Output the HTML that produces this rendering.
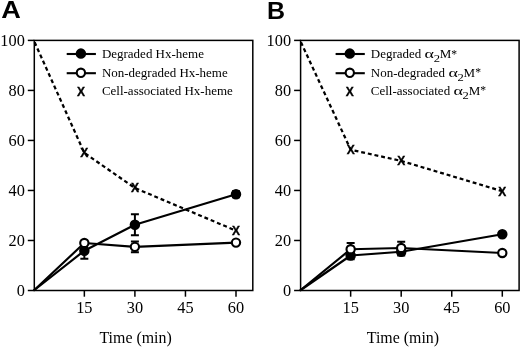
<!DOCTYPE html>
<html><head><meta charset="utf-8"><title>Figure</title>
<style>
html,body{margin:0;padding:0;background:#fff;}
svg{display:block}
.t{font-family:"Liberation Serif",serif;font-size:17.2px;fill:#000}
.tt{font-family:"Liberation Serif",serif;font-size:17.2px;fill:#000}
.l{font-family:"Liberation Serif",serif;font-size:13.4px;fill:#000}
.l2{font-family:"Liberation Serif",serif;font-size:10.5px;fill:#000}
.x{font-family:"Liberation Sans",sans-serif;font-weight:bold;font-size:12px;fill:#000;stroke:#000;stroke-width:0.35px}
.h{font-family:"Liberation Sans",sans-serif;font-weight:bold;font-size:24px;fill:#000}
</style></head><body>
<svg width="520" height="348" viewBox="0 0 520 348">
<rect width="520" height="348" fill="#fff"/>
<text transform="translate(1.30,18.45) scale(1.13,1.0)" text-anchor="start" class="h">A</text>
<text transform="translate(267.00,18.80) scale(1.04,1.0)" text-anchor="start" class="h">B</text>
<rect x="34.3" y="40.4" width="218.50" height="250.1" fill="none" stroke="#000" stroke-width="1.5"/>
<line x1="27.799999999999997" y1="290.5" x2="34.3" y2="290.5" stroke="#000" stroke-width="1.5"/>
<text transform="translate(24.80,296.30) scale(0.95,1.0)" text-anchor="end" class="t">0</text>
<line x1="27.799999999999997" y1="240.48000000000002" x2="34.3" y2="240.48000000000002" stroke="#000" stroke-width="1.5"/>
<text transform="translate(24.80,246.28) scale(0.95,1.0)" text-anchor="end" class="t">20</text>
<line x1="27.799999999999997" y1="190.46" x2="34.3" y2="190.46" stroke="#000" stroke-width="1.5"/>
<text transform="translate(24.80,196.26) scale(0.95,1.0)" text-anchor="end" class="t">40</text>
<line x1="27.799999999999997" y1="140.44" x2="34.3" y2="140.44" stroke="#000" stroke-width="1.5"/>
<text transform="translate(24.80,146.24) scale(0.95,1.0)" text-anchor="end" class="t">60</text>
<line x1="27.799999999999997" y1="90.42000000000002" x2="34.3" y2="90.42000000000002" stroke="#000" stroke-width="1.5"/>
<text transform="translate(24.80,96.22) scale(0.95,1.0)" text-anchor="end" class="t">80</text>
<line x1="27.799999999999997" y1="40.400000000000006" x2="34.3" y2="40.400000000000006" stroke="#000" stroke-width="1.5"/>
<text transform="translate(24.80,46.20) scale(0.95,1.0)" text-anchor="end" class="t">100</text>
<line x1="84.35" y1="290.5" x2="84.35" y2="296.7" stroke="#000" stroke-width="1.5"/>
<text transform="translate(84.35,313.30) scale(0.95,1.0)" text-anchor="middle" class="t">15</text>
<line x1="134.90" y1="290.5" x2="134.90" y2="296.7" stroke="#000" stroke-width="1.5"/>
<text transform="translate(134.90,313.30) scale(0.95,1.0)" text-anchor="middle" class="t">30</text>
<line x1="185.45" y1="290.5" x2="185.45" y2="296.7" stroke="#000" stroke-width="1.5"/>
<text transform="translate(185.45,313.30) scale(0.95,1.0)" text-anchor="middle" class="t">45</text>
<line x1="236.00" y1="290.5" x2="236.00" y2="296.7" stroke="#000" stroke-width="1.5"/>
<text transform="translate(236.00,313.30) scale(0.95,1.0)" text-anchor="middle" class="t">60</text>
<text transform="translate(135.60,343.20) scale(0.926,1.0)" text-anchor="middle" class="tt">Time (min)</text>
<polyline points="33.8,40.4 84.3,152.9 134.9,188.0 236.0,230.7" fill="none" stroke="#000" stroke-width="2.25" stroke-dasharray="3.9 2.9" stroke-dashoffset="-2"/>
<text transform="translate(84.35,157.25) scale(1.0,1.0)" text-anchor="middle" class="x">X</text>
<text transform="translate(134.90,192.26) scale(1.0,1.0)" text-anchor="middle" class="x">X</text>
<text transform="translate(236.00,235.03) scale(1.0,1.0)" text-anchor="middle" class="x">X</text>
<polyline points="33.8,290.5 84.3,250.7 134.9,224.7 236.0,194.2" fill="none" stroke="#000" stroke-width="2.15" stroke-linejoin="round"/>
<path d="M84.35 258.74V242.73M80.35 258.74h8M80.35 242.73h8" stroke="#000" stroke-width="2" fill="none"/>
<path d="M134.90 235.23V214.22M130.90 235.23h8M130.90 214.22h8" stroke="#000" stroke-width="2" fill="none"/>
<path d="M236.00 197.21V191.21M232.00 197.21h8M232.00 191.21h8" stroke="#000" stroke-width="2" fill="none"/>
<circle cx="84.35" cy="250.73" r="4.2" fill="#000" stroke="#000" stroke-width="2.1"/>
<circle cx="134.90" cy="224.72" r="4.2" fill="#000" stroke="#000" stroke-width="2.1"/>
<circle cx="236.00" cy="194.21" r="4.2" fill="#000" stroke="#000" stroke-width="2.1"/>
<polyline points="33.8,290.5 84.3,243.0 134.9,246.9 236.0,242.6" fill="none" stroke="#000" stroke-width="2.15" stroke-linejoin="round"/>
<path d="M134.90 252.23V241.48M130.90 252.23h8M130.90 241.48h8" stroke="#000" stroke-width="2" fill="none"/>
<circle cx="84.35" cy="242.98" r="4.15" fill="#fff" stroke="#000" stroke-width="2.1"/>
<circle cx="134.90" cy="246.86" r="4.15" fill="#fff" stroke="#000" stroke-width="2.1"/>
<circle cx="236.00" cy="242.61" r="4.15" fill="#fff" stroke="#000" stroke-width="2.1"/>
<line x1="66.7" y1="54.0" x2="95.9" y2="54.0" stroke="#000" stroke-width="2.1"/>
<circle cx="80.9" cy="53.6" r="4.2" fill="#000" stroke="#000" stroke-width="2.1"/>
<line x1="66.7" y1="73.2" x2="95.9" y2="73.2" stroke="#000" stroke-width="2.1"/>
<circle cx="80.9" cy="72.8" r="4.15" fill="#fff" stroke="#000" stroke-width="2.1"/>
<text transform="translate(80.90,95.80) scale(1.0,1.0)" text-anchor="middle" class="x">X</text>
<text transform="translate(101.90,58.30) scale(0.97,1.0)" text-anchor="start" class="l">Degraded Hx-heme</text>
<text transform="translate(101.90,76.60) scale(0.97,1.0)" text-anchor="start" class="l">Non-degraded Hx-heme</text>
<text transform="translate(101.90,94.60) scale(0.97,1.0)" text-anchor="start" class="l">Cell-associated Hx-heme</text>
<rect x="300.6" y="40.4" width="218.50" height="250.1" fill="none" stroke="#000" stroke-width="1.5"/>
<line x1="294.1" y1="290.5" x2="300.6" y2="290.5" stroke="#000" stroke-width="1.5"/>
<text transform="translate(291.10,296.30) scale(0.95,1.0)" text-anchor="end" class="t">0</text>
<line x1="294.1" y1="240.48000000000002" x2="300.6" y2="240.48000000000002" stroke="#000" stroke-width="1.5"/>
<text transform="translate(291.10,246.28) scale(0.95,1.0)" text-anchor="end" class="t">20</text>
<line x1="294.1" y1="190.46" x2="300.6" y2="190.46" stroke="#000" stroke-width="1.5"/>
<text transform="translate(291.10,196.26) scale(0.95,1.0)" text-anchor="end" class="t">40</text>
<line x1="294.1" y1="140.44" x2="300.6" y2="140.44" stroke="#000" stroke-width="1.5"/>
<text transform="translate(291.10,146.24) scale(0.95,1.0)" text-anchor="end" class="t">60</text>
<line x1="294.1" y1="90.42000000000002" x2="300.6" y2="90.42000000000002" stroke="#000" stroke-width="1.5"/>
<text transform="translate(291.10,96.22) scale(0.95,1.0)" text-anchor="end" class="t">80</text>
<line x1="294.1" y1="40.400000000000006" x2="300.6" y2="40.400000000000006" stroke="#000" stroke-width="1.5"/>
<text transform="translate(291.10,46.20) scale(0.95,1.0)" text-anchor="end" class="t">100</text>
<line x1="350.65" y1="290.5" x2="350.65" y2="296.7" stroke="#000" stroke-width="1.5"/>
<text transform="translate(350.65,313.30) scale(0.95,1.0)" text-anchor="middle" class="t">15</text>
<line x1="401.20" y1="290.5" x2="401.20" y2="296.7" stroke="#000" stroke-width="1.5"/>
<text transform="translate(401.20,313.30) scale(0.95,1.0)" text-anchor="middle" class="t">30</text>
<line x1="451.75" y1="290.5" x2="451.75" y2="296.7" stroke="#000" stroke-width="1.5"/>
<text transform="translate(451.75,313.30) scale(0.95,1.0)" text-anchor="middle" class="t">45</text>
<line x1="502.30" y1="290.5" x2="502.30" y2="296.7" stroke="#000" stroke-width="1.5"/>
<text transform="translate(502.30,313.30) scale(0.95,1.0)" text-anchor="middle" class="t">60</text>
<text transform="translate(402.90,343.20) scale(0.926,1.0)" text-anchor="middle" class="tt">Time (min)</text>
<polyline points="300.1,40.4 350.7,149.7 401.2,160.9 502.3,191.2" fill="none" stroke="#000" stroke-width="2.25" stroke-dasharray="3.9 2.9" stroke-dashoffset="-2"/>
<text transform="translate(350.65,153.99) scale(1.0,1.0)" text-anchor="middle" class="x">X</text>
<text transform="translate(401.20,165.25) scale(1.0,1.0)" text-anchor="middle" class="x">X</text>
<text transform="translate(502.30,195.51) scale(1.0,1.0)" text-anchor="middle" class="x">X</text>
<polyline points="300.1,290.5 350.7,255.5 401.2,251.7 502.3,234.2" fill="none" stroke="#000" stroke-width="2.15" stroke-linejoin="round"/>
<path d="M350.65 259.24V251.73M346.65 259.24h8M346.65 251.73h8" stroke="#000" stroke-width="2" fill="none"/>
<path d="M401.20 255.49V247.98M397.20 255.49h8M397.20 247.98h8" stroke="#000" stroke-width="2" fill="none"/>
<circle cx="350.65" cy="255.49" r="4.2" fill="#000" stroke="#000" stroke-width="2.1"/>
<circle cx="401.20" cy="251.73" r="4.2" fill="#000" stroke="#000" stroke-width="2.1"/>
<circle cx="502.30" cy="234.23" r="4.2" fill="#000" stroke="#000" stroke-width="2.1"/>
<polyline points="300.1,290.5 350.7,249.2 401.2,248.0 502.3,253.0" fill="none" stroke="#000" stroke-width="2.15" stroke-linejoin="round"/>
<path d="M350.65 255.49V242.98M346.65 255.49h8M346.65 242.98h8" stroke="#000" stroke-width="2" fill="none"/>
<path d="M401.20 254.24V241.73M397.20 254.24h8M397.20 241.73h8" stroke="#000" stroke-width="2" fill="none"/>
<circle cx="350.65" cy="249.23" r="4.15" fill="#fff" stroke="#000" stroke-width="2.1"/>
<circle cx="401.20" cy="247.98" r="4.15" fill="#fff" stroke="#000" stroke-width="2.1"/>
<circle cx="502.30" cy="252.99" r="4.15" fill="#fff" stroke="#000" stroke-width="2.1"/>
<line x1="335.6" y1="54.0" x2="364.8" y2="54.0" stroke="#000" stroke-width="2.1"/>
<circle cx="349.8" cy="53.6" r="4.2" fill="#000" stroke="#000" stroke-width="2.1"/>
<line x1="335.6" y1="73.2" x2="364.8" y2="73.2" stroke="#000" stroke-width="2.1"/>
<circle cx="349.8" cy="72.8" r="4.15" fill="#fff" stroke="#000" stroke-width="2.1"/>
<text transform="translate(349.80,95.80) scale(1.0,1.0)" text-anchor="middle" class="x">X</text>
<text transform="translate(370.80,58.30) scale(0.97,1.0)" text-anchor="start" class="l">Degraded</text>
<text transform="translate(424.57,58.30) scale(1.3385999999999998,1.0)" text-anchor="start" class="l">&#945;</text>
<text transform="translate(433.67,62.30) scale(1.2,1.0)" text-anchor="start" class="l2">2</text>
<text transform="translate(439.77,58.30) scale(0.97,1.0)" text-anchor="start" class="l">M<tspan font-size="12" dy="-0.8">*</tspan></text>
<text transform="translate(370.80,76.60) scale(0.97,1.0)" text-anchor="start" class="l">Non-degraded</text>
<text transform="translate(448.40,76.60) scale(1.3385999999999998,1.0)" text-anchor="start" class="l">&#945;</text>
<text transform="translate(457.49,80.60) scale(1.2,1.0)" text-anchor="start" class="l2">2</text>
<text transform="translate(463.59,76.60) scale(0.97,1.0)" text-anchor="start" class="l">M<tspan font-size="12" dy="-0.8">*</tspan></text>
<text transform="translate(370.80,94.60) scale(0.97,1.0)" text-anchor="start" class="l">Cell-associated</text>
<text transform="translate(453.46,94.60) scale(1.3385999999999998,1.0)" text-anchor="start" class="l">&#945;</text>
<text transform="translate(462.55,98.60) scale(1.2,1.0)" text-anchor="start" class="l2">2</text>
<text transform="translate(468.65,94.60) scale(0.97,1.0)" text-anchor="start" class="l">M<tspan font-size="12" dy="-0.8">*</tspan></text>
</svg>
</body></html>
